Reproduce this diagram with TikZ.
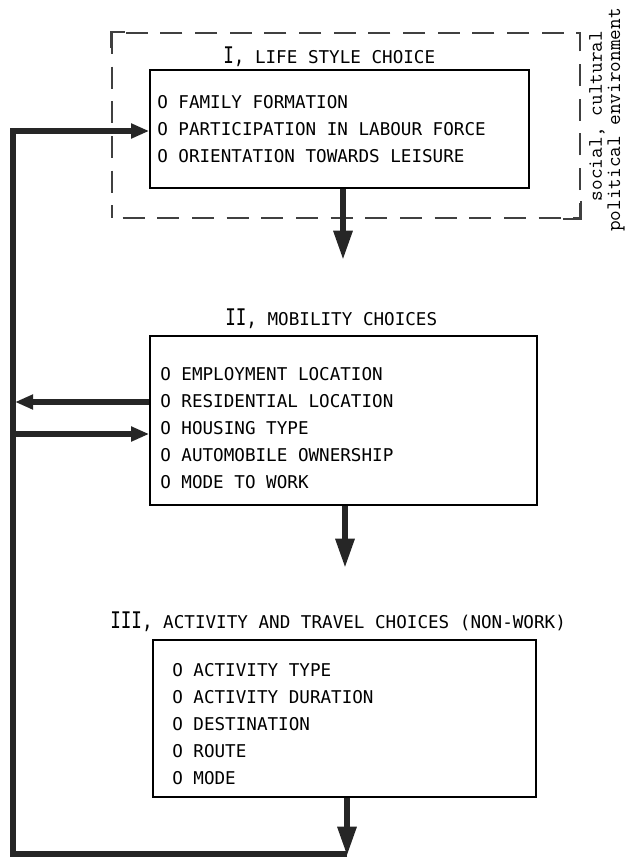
\documentclass[tikz,border=0pt]{standalone}
\usepackage{fontspec}
\setmonofont{DejaVu Sans Mono}
\newfontfamily\typewriterfont{Latin Modern Mono}
\usetikzlibrary{arrows.meta,fit}

\newcommand\bignum[1]{\scalebox{1}[1.3]{\fontsize{13.2}{14}\selectfont #1}}

\tikzset{
  choicebox/.style={draw, line width=1.2pt, inner sep=0pt},
  itemlist/.style={anchor=west, align=left, inner sep=0pt,
    font=\ttfamily\fontsize{13.2}{20.2}\selectfont},
  choicetitle/.style={anchor=base west, inner sep=0pt,
    font=\ttfamily\fontsize{13.2}{14}\selectfont},
  envframe/.style={draw=black!75, line width=1.3pt, inner sep=0pt,
    dash pattern=on 16.5pt off 9.5pt, dash phase=-8pt},
  envlabel/.style={rotate=90, inner sep=0pt,
    font=\typewriterfont\fontsize{15.5}{16}\selectfont},
  flowdown/.style={draw=black!85, line width=4.5pt,
    -{Triangle[length=22pt,width=13.5pt]}},
  sidearrow/.style={draw=black!85, line width=3.8pt,
    -{Triangle[length=13.5pt,width=10.5pt]}},
  feedback/.style={draw=black!85, line width=3.8pt, line join=miter}
}

\begin{document}
\begin{tikzpicture}[x=0.75pt,y=0.75pt,yscale=-1,xscale=1]
\useasboundingbox (0,0) rectangle (634,857);

%Shape: dashed environment frame
\node[envframe, fit={(112,33) (580,218)}] (envbox) {};
\draw[black!75, line width=1.3pt] (envbox.north west) ++(0,16) -- (envbox.north west) -- ++(14,0);
\draw[black!75, line width=1.3pt] (envbox.south east) ++(0,-18) -- (envbox.south east) -- ++(-18,0);

% Text Node
\node[envlabel] (envsocial) at (597,116) {social, cultural};
% Text Node
\node[envlabel] (envpolitical) at (616,120) {political environment};

%Shape: Rectangle  I
\node[choicebox, fit={(150,70) (529,188)}] (lifebox) {};
% Text Node
\node[choicetitle] (lifetitle) at (223,63) {\bignum{I,} LIFE STYLE CHOICE};
% Text Node
\node[itemlist] (lifeitems) at (157,129) {O FAMILY FORMATION\\O PARTICIPATION IN LABOUR FORCE\\O ORIENTATION TOWARDS LEISURE};

%Shape: Rectangle  II
\node[choicebox, fit={(150,336) (537,505)}] (mobbox) {};
% Text Node
\node[choicetitle] (mobtitle) at (225,325) {\bignum{II,} MOBILITY CHOICES};
% Text Node
\node[itemlist] (mobitems) at (160,428) {O EMPLOYMENT LOCATION\\O RESIDENTIAL LOCATION\\O HOUSING TYPE\\O AUTOMOBILE OWNERSHIP\\O MODE TO WORK};

%Shape: Rectangle  III
\node[choicebox, fit={(153,640) (536,797)}] (actbox) {};
% Text Node
\node[choicetitle] (acttitle) at (110,628) {\bignum{III,} ACTIVITY AND TRAVEL CHOICES (NON-WORK)};
% Text Node
\node[itemlist] (actitems) at (172,724) {O ACTIVITY TYPE\\O ACTIVITY DURATION\\O DESTINATION\\O ROUTE\\O MODE};

% arrow ends and feedback loop corners
\coordinate (lifeout) at (343,260);
\coordinate (mobout) at (345,568);
\coordinate (loopright) at (347,856);
\coordinate (loopleft) at (13,854);
\coordinate (looptop) at (13,131);
\coordinate (resout) at (15,402);
\coordinate (housein) at (13,434);

%Down arrows
\draw[flowdown] (lifebox.south -| lifeout) -- (lifeout);
\draw[flowdown] (mobbox.south -| mobout) -- (mobout);
\draw[flowdown] (actbox.south -| loopright) -- (loopright);

%Feedback loop
\draw[feedback, -{Triangle[length=13.5pt,width=10.5pt]}] (loopright |- loopleft) -- (loopleft) -- (looptop) -- (lifebox.west |- looptop);
\draw[sidearrow] (mobbox.west |- resout) -- (resout);
\draw[sidearrow] (housein) -- (mobbox.west |- housein);

\end{tikzpicture}
\end{document}
